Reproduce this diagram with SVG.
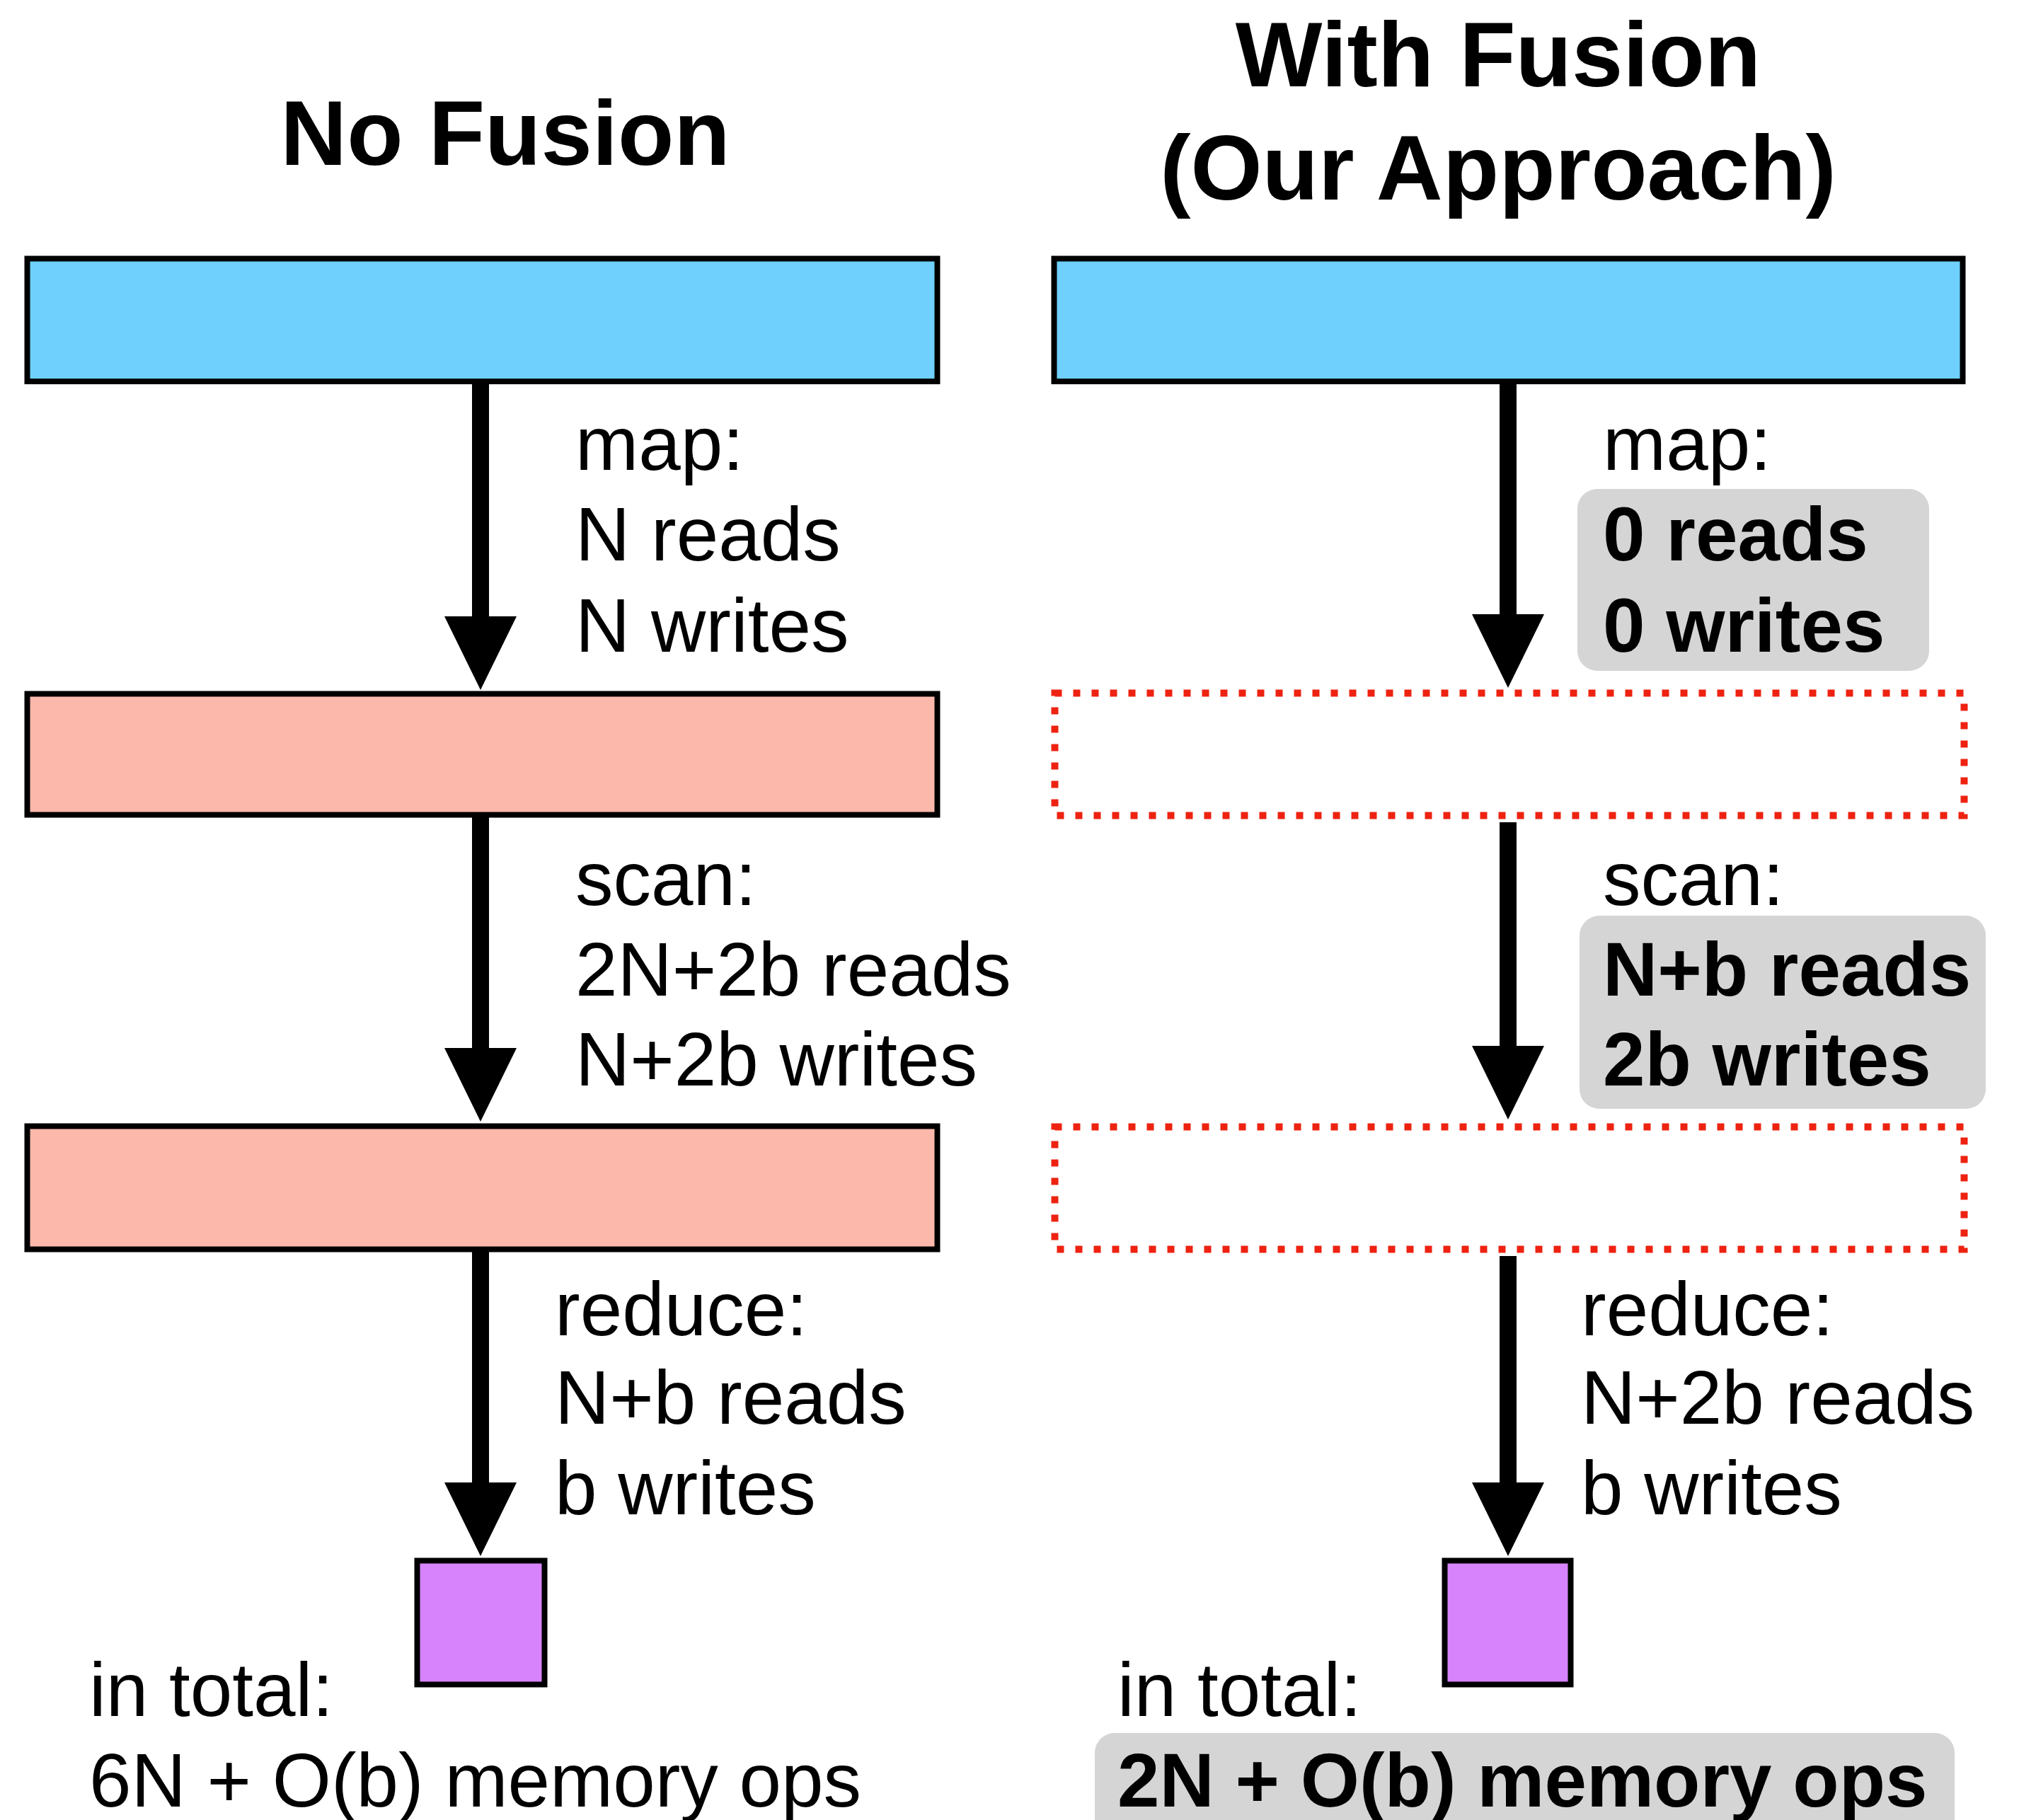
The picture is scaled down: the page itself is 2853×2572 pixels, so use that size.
<svg xmlns="http://www.w3.org/2000/svg" width="2853" height="2572" viewBox="0 0 2853 2572">
<style>
text{font-family:"Liberation Sans",Arial,Helvetica,sans-serif;fill:#000}
.t{font-size:130px;font-weight:bold;text-anchor:middle}
.l{font-size:107px}
.b{font-weight:bold}
.blue{fill:#6FD0FE;stroke:#000;stroke-width:8}
.sal{fill:#FDB8AC;stroke:#000;stroke-width:8}
.pur{fill:#D783FB;stroke:#000;stroke-width:8}
.dot{fill:none;stroke:#EE2211;stroke-width:10;stroke-dasharray:10 16}
.hl{fill:#D5D5D5}
.arr{stroke:#000;stroke-width:24;fill:none;marker-end:url(#ah)}
</style>
<defs>
<marker id="ah" markerUnits="userSpaceOnUse" markerWidth="106" markerHeight="104" refX="0" refY="51" orient="auto" overflow="visible">
<path d="M0,0 L104,51 L0,102 Z" fill="#000"/>
</marker>
</defs>
<rect width="2853" height="2572" fill="#fff"/>
<g id="titles">
<text class="t" x="714" y="233">No Fusion</text>
<text class="t" x="2117" y="122">With Fusion</text>
<text class="t" x="2117" y="282">(Our Approach)</text>
</g>
<g id="connectors">
<line class="arr" x1="679" y1="542" x2="679" y2="871"/>
<line class="arr" x1="679" y1="1155" x2="679" y2="1481"/>
<line class="arr" x1="679" y1="1769" x2="679" y2="2095"/>
<line class="arr" x1="2131" y1="542" x2="2131" y2="868"/>
<line class="arr" x1="2131" y1="1162" x2="2131" y2="1478"/>
<line class="arr" x1="2131" y1="1775" x2="2131" y2="2095"/>
</g>
<g id="left-input"><rect class="blue" x="38.5" y="365.5" width="1286" height="173.5"/></g>
<g id="left-mid1"><rect class="sal" x="38.5" y="980.5" width="1286" height="171"/></g>
<g id="left-mid2"><rect class="sal" x="38.5" y="1591.5" width="1286" height="174"/></g>
<g id="left-out"><rect class="pur" x="589.5" y="2205.5" width="180" height="175"/></g>
<g id="right-input"><rect class="blue" x="1489.5" y="365.5" width="1284" height="173.5"/></g>
<g id="right-mid1"><rect class="dot" x="1490.5" y="979.5" width="1285" height="173"/></g>
<g id="right-mid2"><rect class="dot" x="1490.5" y="1592.5" width="1285" height="173"/></g>
<g id="right-out"><rect class="pur" x="2041.5" y="2205.5" width="178" height="175"/></g>
<g id="left-labels">
<text class="l" x="813" y="664">map:</text>
<text class="l" x="813" y="792">N reads</text>
<text class="l" x="813" y="921">N writes</text>
<text class="l" x="813" y="1279">scan:</text>
<text class="l" x="813" y="1407">2N+2b reads</text>
<text class="l" x="813" y="1534">N+2b writes</text>
<text class="l" x="784" y="1887">reduce:</text>
<text class="l" x="784" y="2012">N+b reads</text>
<text class="l" x="784" y="2140">b writes</text>
<text class="l" x="126" y="2425">in total:</text>
<text class="l" x="126" y="2553">6N + O(b) memory ops</text>
</g>
<g id="right-labels">
<rect class="hl" x="2229" y="691" width="497" height="257" rx="28"/>
<rect class="hl" x="2232" y="1294" width="574" height="273" rx="28"/>
<rect class="hl" x="1547" y="2449" width="1215" height="160" rx="28"/>
<text class="l" x="2265" y="664">map:</text>
<text class="l b" x="2265" y="792">0 reads</text>
<text class="l b" x="2265" y="921">0 writes</text>
<text class="l" x="2265" y="1279">scan:</text>
<text class="l b" x="2265" y="1407">N+b reads</text>
<text class="l b" x="2265" y="1534">2b writes</text>
<text class="l" x="2234" y="1887">reduce:</text>
<text class="l" x="2234" y="2012">N+2b reads</text>
<text class="l" x="2234" y="2140">b writes</text>
<text class="l" x="1579" y="2425">in total:</text>
<text class="l b" x="1579" y="2553">2N + O(b) memory ops</text>
</g>
</svg>
